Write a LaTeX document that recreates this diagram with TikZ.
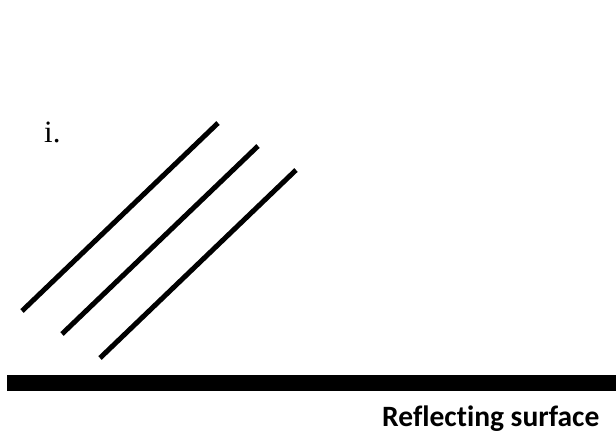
\documentclass[tikz,border=0pt]{standalone}
\usepackage{fontspec}
\setmainfont{Liberation Serif}
\newfontfamily\labelfont[Ligatures=NoCommon]{Carlito}
\usetikzlibrary{positioning}

\begin{document}
\begin{tikzpicture}[x=1pt,y=-1pt,
  ray/.style={line width=5pt},
  surf/.style={fill=black}]
  \useasboundingbox (0,0) rectangle (616,432);
  \node[anchor=base west,inner sep=0pt,font=\fontsize{31}{36}\selectfont] (lbl) at (44,142) {i.};
  \draw[ray](22,311)--(218,123);
  \draw[ray](62,334)--(258,146);
  \draw[ray](100,358)--(296,170);
  \fill[surf](7,375) rectangle (616,391);
  \node[anchor=base west,inner sep=0pt,font=\labelfont\bfseries\fontsize{29.5}{34}\selectfont] (surface) at (382,426) {Reflecting surface};
\end{tikzpicture}
\end{document}
